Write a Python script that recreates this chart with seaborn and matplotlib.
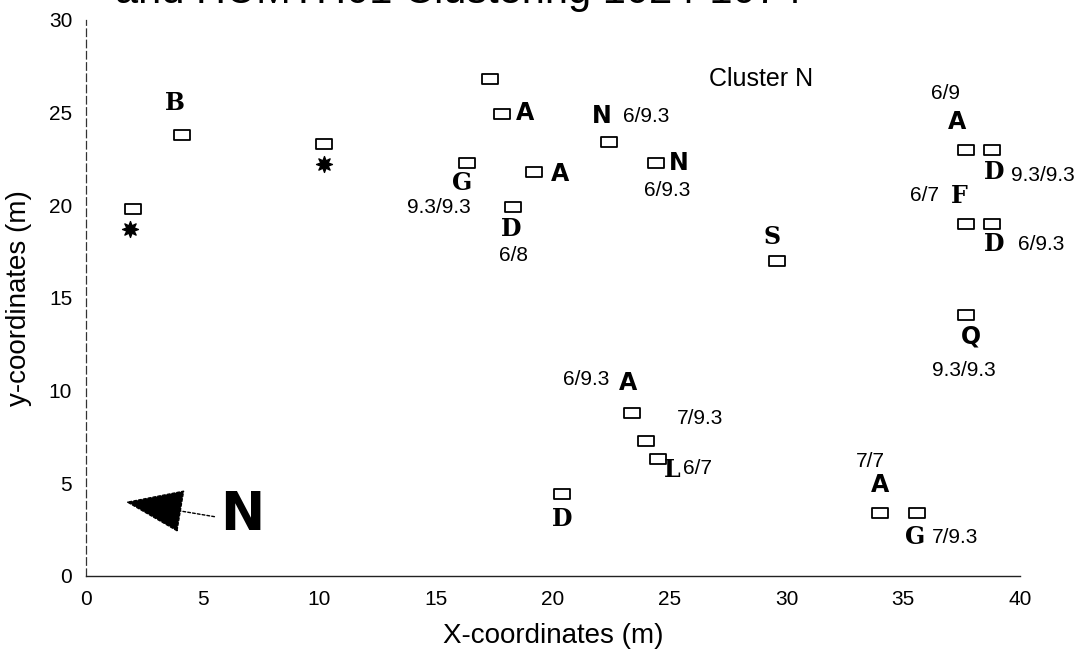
import matplotlib
matplotlib.use("Agg")
import matplotlib.pyplot as plt
from matplotlib.path import Path
import seaborn as sns
import pandas as pd

# ---------------- data ----------------
square_x = [2.0, 4.1, 10.2, 17.3, 17.8, 16.3, 19.2, 18.3, 22.4, 24.4, 29.6,
            37.7, 38.8, 37.7, 38.8, 37.7, 23.4, 24.0, 24.5, 20.4, 34.0, 35.6]
square_y = [19.8, 23.8, 23.3, 26.8, 24.9, 22.3, 21.8, 19.9, 23.4, 22.3, 17.0,
            23.0, 23.0, 19.0, 19.0, 14.1, 8.8, 7.3, 6.3, 4.4, 3.4, 3.4]

star_x = [1.9, 10.2]
star_y = [18.7, 22.2]

letters = ["B", "A", "N", "G", "A", "N", "D", "S", "A", "D", "F", "D",
           "Q", "A", "L", "D", "A", "G"]
letter_x = [3.8, 18.8, 22.1, 16.1, 20.3, 25.4, 18.2, 29.4, 37.3, 38.9, 37.4,
            38.9, 37.9, 23.2, 25.1, 20.4, 34.0, 35.5]
letter_y = [25.5, 25.0, 24.8, 21.2, 21.7, 22.3, 18.7, 18.3, 24.5, 21.8, 20.5,
            17.9, 12.9, 10.4, 5.7, 3.1, 4.9, 2.1]
letter_style = ["serif", "sans", "sans", "serif", "sans", "sans", "serif",
                "serif", "sans", "serif", "serif", "serif", "sans", "sans",
                "serif", "serif", "sans", "serif"]

allele_text = ["6/9.3", "9.3/9.3", "6/8", "6/9.3", "6/9", "9.3/9.3", "6/7",
               "6/9.3", "9.3/9.3", "6/9.3", "7/9.3", "6/7", "7/7", "7/9.3"]
allele_x = [24.0, 15.1, 18.3, 24.9, 36.8, 41.0, 35.9, 40.9, 37.6, 21.4,
            26.3, 26.2, 33.6, 37.2]
allele_y = [24.8, 19.9, 17.3, 20.8, 26.0, 21.6, 20.5, 17.9, 11.1, 10.6,
            8.5, 5.8, 6.2, 2.1]

x_ticks = [0, 5, 10, 15, 20, 25, 30, 35, 40]
y_ticks = [0, 5, 10, 15, 20, 25, 30]

title_text = "and HUMTH01 Clustering 1024-1074"
legend_text = "Cluster N"
north_text = "N"
north_x, north_y = 6.7, 3.3
arrow_tip = (1.7, 4.0)

# ---------------- plot ----------------
sns.set_theme(style="white")
plt.rcParams["font.family"] = ["Liberation Sans", "DejaVu Sans"]
plt.rcParams["text.color"] = "black"
plt.rcParams["axes.labelcolor"] = "black"
plt.rcParams["xtick.color"] = "black"
plt.rcParams["ytick.color"] = "black"

fig = plt.figure(figsize=(10.78, 6.61), dpi=100)
ax = fig.add_axes([0.0798, 0.1286, 0.8664, 0.8414])

rect = Path([(-1, -0.62), (1, -0.62), (1, 0.62), (-1, 0.62), (-1, -0.62)],
            [Path.MOVETO, Path.LINETO, Path.LINETO, Path.LINETO, Path.CLOSEPOLY])

sq = pd.DataFrame({"x": square_x, "y": square_y})
st = pd.DataFrame({"x": star_x, "y": star_y})
sns.scatterplot(data=sq, x="x", y="y", marker=rect, s=120, facecolor="white",
                edgecolor="black", linewidth=1.3, ax=ax, zorder=3)
sns.scatterplot(data=st, x="x", y="y", marker=(8, 1, 0), s=130, color="black",
                edgecolor="black", linewidth=1.0, ax=ax, zorder=3)

for t, x, y, s in zip(letters, letter_x, letter_y, letter_style):
    if s == "serif":
        ax.text(x, y, t, fontsize=17, fontweight="bold", family="DejaVu Serif",
                ha="center", va="center", color="black")
    else:
        ax.text(x, y, t, fontsize=17, fontweight="heavy", family="DejaVu Sans",
                ha="center", va="center", color="black")

for t, x, y in zip(allele_text, allele_x, allele_y):
    ax.text(x, y, t, fontsize=15, ha="center", va="center", color="black",
            clip_on=False)

ax.text(28.9, 26.8, legend_text, fontsize=18, ha="center", va="center",
        color="black")

ax.text(north_x, north_y, north_text, fontsize=38, fontweight="heavy",
        family="DejaVu Sans", ha="center", va="center", color="black")
ax.annotate("", xy=arrow_tip, xytext=(5.5, 3.2),
            arrowprops=dict(arrowstyle="-|>,head_length=1.6,head_width=0.6",
                            mutation_scale=24, color="black", lw=1.0,
                            linestyle=(0, (2, 1.5)), shrinkA=0, shrinkB=0))

fig.text(0.425, 0.9955, title_text, fontsize=30, ha="center", va="baseline",
         color="black")

ax.set_xlim(0, 40)
ax.set_ylim(0, 30)
ax.set_xticks(x_ticks)
ax.set_yticks(y_ticks)
ax.set_xticklabels([str(v) for v in x_ticks], fontsize=15)
ax.set_yticklabels([str(v) for v in y_ticks], fontsize=15)
ax.tick_params(axis="both", length=0, pad=10)
ax.set_xlabel("X-coordinates (m)", fontsize=20, labelpad=10)
ax.set_ylabel("y-coordinates (m)", fontsize=20, labelpad=12)

for side in ["top", "right"]:
    ax.spines[side].set_visible(False)
ax.spines["left"].set_color("#333333")
ax.spines["left"].set_linewidth(0.9)
ax.spines["left"].set_linestyle((0, (6, 3)))
ax.spines["bottom"].set_color("#222222")
ax.spines["bottom"].set_linewidth(1.0)
ax.grid(False)

fig.savefig("out.png", dpi=100, facecolor="white")
